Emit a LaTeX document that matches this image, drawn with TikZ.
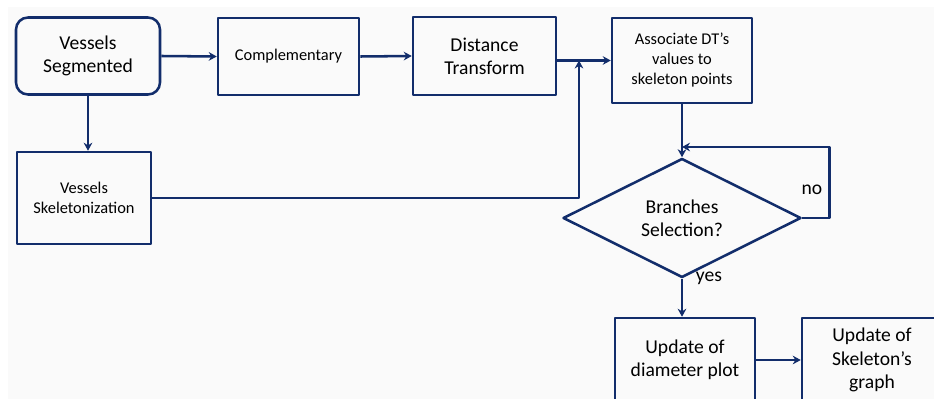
\documentclass[tikz,border=0pt]{standalone}
\usepackage{fontspec}
\setmainfont{Carlito}
\usetikzlibrary{shapes.geometric,arrows.meta}
\definecolor{xanh}{RGB}{18,45,107}
\definecolor{nen}{RGB}{250,250,250}
\tikzset{
	hop/.style={draw=xanh, line width=1.9pt, align=center, inner sep=2pt,
		font=\fontsize{14.7}{17.5}\selectfont},
	hopnho/.style={hop, font=\fontsize{12.3}{15}\selectfont},
	thoi/.style={hop, diamond, inner sep=0pt, minimum width=178.5pt, minimum height=78pt},
	noi/.style={->, draw=xanh, line width=1.9pt},
	nhan/.style={font=\fontsize{14.7}{17.5}\selectfont}
}
\begin{document}
\begin{tikzpicture}[x=0.75pt, y=-0.75pt, line join=round, >={Stealth[length=6pt,width=6.5pt]}]
	%% Khung nen
	\useasboundingbox (0,0) rectangle (934,399);
	\clip (0,0) rectangle (934,399);
	\fill[nen] (8,7) rectangle (940,405);
	%% Cac khoi
	\node[hop, rounded corners=9pt, minimum width=108pt, minimum height=57.75pt] (seg) at (88,56) {Vessels\\Segmented};
	\node[hopnho, minimum width=105.75pt, minimum height=57.75pt] (comp) at (288.5,56.5) {Complementary};
	\node[hop, minimum width=107.25pt, minimum height=58.5pt] (dt) at (484.5,56) {Distance\\Transform};
	\node[hopnho, minimum width=105pt, minimum height=63.75pt] (assoc) at (682,60.5) {Associate DT’s\\values to\\skeleton points};
	\node[hopnho, minimum width=100.5pt, minimum height=69pt] (skel) at (84,198) {Vessels\\Skeletonization};
	\node[thoi] (sel) at (682,218) {Branches\\Selection?};
	\node[hop, minimum width=105pt, minimum height=63pt] (diam) at (685,360) {Update of\\diameter plot};
	\node[hop, minimum width=105pt, minimum height=63pt] (graph) at (872,360) {Update of\\Skeleton’s\\graph};
	%% Diem phu
	\path (579,60.5) coordinate (J)
		(682,147) coordinate (M);
	%% Mui ten
	\draw[noi] (seg.east) -- (comp.west);
	\draw[noi] (comp.east) -- (dt.west);
	\draw[noi] (assoc.west -| dt.east) -- (assoc.west);
	\draw[noi] (skel.east) -| (J);
	\draw[noi] (seg.south) -- (seg.south |- skel.north);
	\draw[noi] (assoc.south) -- (sel.north);
	\draw[noi] (sel.east) -- ++(27,0) |- (M);
	\draw[noi] (sel.south) -- (sel.south |- diam.north);
	\draw[noi] (diam.east) -- (graph.west);
	%% Nhan
	\node[nhan] (no) at (812,190) {no};
	\node[nhan] (yes) at (709,278) {yes};
\end{tikzpicture}
\end{document}
